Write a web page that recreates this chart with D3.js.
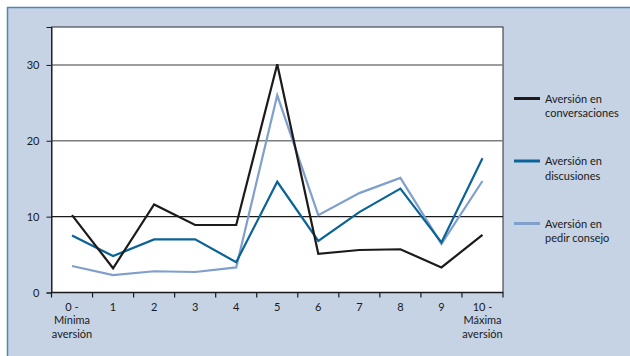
<!DOCTYPE html>
<html>
<head>
<meta charset="utf-8">
<script src="https://cdn.jsdelivr.net/npm/d3@7"></script>
<style>
  html, body { margin: 0; padding: 0; background: #ffffff; }
  svg { display: block; }
  text { font-family: Lato, "Open Sans", sans-serif; fill: #1a1a1a; }
</style>
</head>
<body>
<svg id="chart" width="630" height="356"></svg>
<script>
// Scale positions 0..10 (aversion level)
const categories = ["0", "1", "2", "3", "4", "5", "6", "7", "8", "9", "10"];
const categoryLabels = [
  ["0 -", "Mínima", "aversión"], ["1"], ["2"], ["3"], ["4"], ["5"],
  ["6"], ["7"], ["8"], ["9"], ["10 -", "Máxima", "aversión"]
];

// Percentage of respondents at each level
const conversaciones = [10.2, 3.2, 11.6, 8.9, 8.9, 30.1, 5.1, 5.6, 5.7, 3.3, 7.6];
const discusiones    = [7.5, 4.8, 7.0, 7.0, 4.0, 14.6, 6.8, 10.6, 13.7, 6.6, 17.7];
const pedirConsejo   = [3.5, 2.3, 2.8, 2.7, 3.3, 26.0, 10.2, 13.1, 15.1, 6.4, 14.7];

const seriesNames = [
  ["Aversión en", "conversaciones"],
  ["Aversión en", "discusiones"],
  ["Aversión en", "pedir consejo"]
];
const seriesColors = ["#1c1a1b", "#0b6396", "#7f9fcc"];
const yTicks = [0, 10, 20, 30];

const series = [conversaciones, discusiones, pedirConsejo];

const svg = d3.select("#chart");

// Panel background with blue top/left rule
svg.append("rect").attr("x", 7).attr("y", 7).attr("width", 640).attr("height", 360)
  .attr("fill", "#c5d3e5");
svg.append("line").attr("x1", 7).attr("x2", 630).attr("y1", 7.5).attr("y2", 7.5)
  .attr("stroke", "#4f86b8").attr("stroke-width", 1.5);
svg.append("line").attr("x1", 7.5).attr("x2", 7.5).attr("y1", 7).attr("y2", 356)
  .attr("stroke", "#4f86b8").attr("stroke-width", 1.5);

const plot = { left: 51.5, right: 503, top: 27, bottom: 292.5 };

const x = d3.scaleBand().domain(categories).range([plot.left, plot.right]).padding(0);
const y = d3.scaleLinear().domain([0, 35]).range([plot.bottom, plot.top]);

// Plot area
svg.append("rect")
  .attr("x", plot.left).attr("y", plot.top)
  .attr("width", plot.right - plot.left).attr("height", plot.bottom - plot.top)
  .attr("fill", "#ffffff").attr("stroke", "#2a2a2a").attr("stroke-width", 1);

// Horizontal gridlines
svg.append("g").selectAll("line").data(yTicks.filter(d => d > 0)).join("line")
  .attr("x1", plot.left).attr("x2", plot.right)
  .attr("y1", d => y(d)).attr("y2", d => y(d))
  .attr("stroke", d => d === 10 ? "#1a1a1a" : "#7d7d7d")
  .attr("stroke-width", d => d === 10 ? 1.2 : 1.6);

// Y axis
const yAxis = svg.append("g")
  .attr("transform", `translate(${plot.left},0)`)
  .call(d3.axisLeft(y).tickValues(yTicks).tickSize(5).tickPadding(7));
yAxis.select(".domain").attr("stroke", "#1a1a1a");
yAxis.selectAll(".tick line").attr("stroke", "#1a1a1a");
yAxis.selectAll(".tick text").style("font-size", "11px").style("font-family", "Lato, sans-serif").attr("fill", "#1a1a1a");

// X axis: ticks on band boundaries
const boundaries = categories.map(c => x(c)).concat([plot.right]);
svg.append("line").attr("x1", plot.left).attr("x2", plot.right)
  .attr("y1", plot.bottom).attr("y2", plot.bottom)
  .attr("stroke", "#1a1a1a").attr("stroke-width", 1.5);
svg.append("g").selectAll("line").data(boundaries).join("line")
  .attr("x1", d => d).attr("x2", d => d)
  .attr("y1", plot.bottom).attr("y2", plot.bottom + 5)
  .attr("stroke", "#1a1a1a").attr("stroke-width", 1.2);

const xl = svg.append("g").selectAll("text").data(categories).join("text")
  .attr("text-anchor", "middle")
  .attr("x", d => x(d) + x.bandwidth() / 2)
  .attr("y", 310.5)
  .style("font-size", "11px");
xl.each(function(d, i) {
  const t = d3.select(this);
  categoryLabels[i].forEach((s, j) => {
    t.append("tspan").attr("x", x(d) + x.bandwidth() / 2)
      .attr("dy", j === 0 ? 0 : 13.5).text(s);
  });
});

// Lines
const line = d3.line()
  .x((d, i) => x(categories[i]) + x.bandwidth() / 2)
  .y(d => y(d));

// Light series first so darker lines sit on top
[2, 1, 0].forEach(k => {
  svg.append("path").datum(series[k])
    .attr("d", line)
    .attr("fill", "none")
    .attr("stroke", seriesColors[k])
    .attr("stroke-width", 2.2)
    .attr("stroke-linejoin", "miter");
});

// Legend
const legendY = [98.5, 161, 223.5];
const lg = svg.append("g").selectAll("g").data(seriesNames).join("g")
  .attr("transform", (d, i) => `translate(514,${legendY[i]})`);
lg.append("line").attr("x1", 0).attr("x2", 26).attr("y1", 0).attr("y2", 0)
  .attr("stroke", (d, i) => seriesColors[i]).attr("stroke-width", 3);
lg.append("text").attr("x", 31).attr("y", 4)
  .style("font-size", "11px")
  .selectAll("tspan").data(d => d).join("tspan")
  .attr("x", 31).attr("dy", (d, j) => j === 0 ? 0 : 14.5).text(d => d);
</script>
</body>
</html>
